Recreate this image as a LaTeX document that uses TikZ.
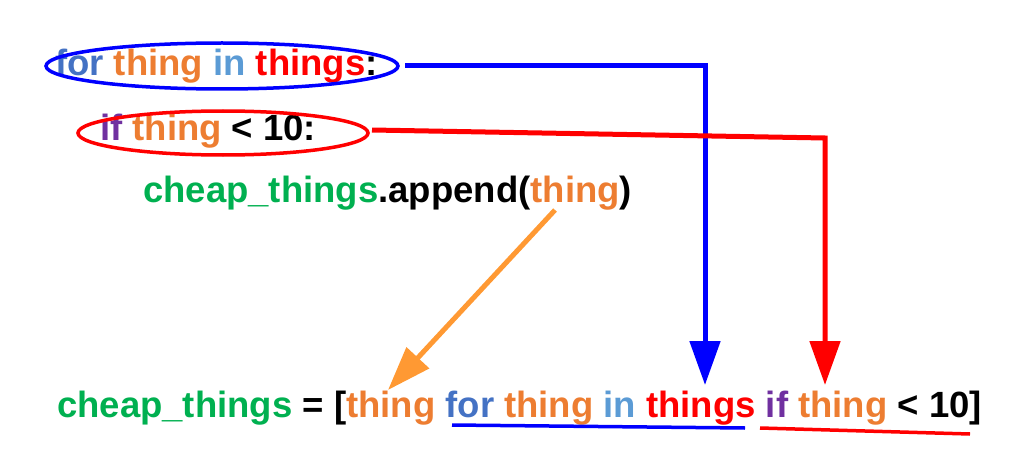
\documentclass[tikz,border=0pt]{standalone}
\usepackage{fontspec}
\setmainfont{Liberation Sans}
\usetikzlibrary{arrows.meta}
\definecolor{kw}{HTML}{4472C4}
\definecolor{var}{HTML}{ED7D31}
\definecolor{grn}{HTML}{00B050}
\definecolor{pur}{HTML}{7030A0}
\definecolor{lb}{HTML}{5B9BD5}
\definecolor{org}{HTML}{FF9933}
\tikzset{code/.style={anchor=west,inner sep=0,font=\fontsize{36.5}{38}\selectfont\bfseries},
 conn/.style={line width=5pt,-{Triangle[width=30pt,length=44pt]}}}
\begin{document}
\begin{tikzpicture}[x=1pt,y=-1pt]
\useasboundingbox (0,0) rectangle (1011,476);
\node[code] (l1) at (55,66) {\textcolor{kw}{for} \textcolor{var}{thing} \textcolor{lb}{in} \textcolor{red}{things}:};
\node[code] (l2) at (100,131) {\textcolor{pur}{if} \textcolor{var}{thing} < 10:};
\node[code] (l3) at (143,193) {\textcolor{grn}{cheap\_things}.append(\textcolor{var}{thing})};
\node[code] (l4) at (57,408) {\textcolor{grn}{cheap\_things} = [\textcolor{var}{thing} \textcolor{kw}{for} \textcolor{var}{thing} \textcolor{lb}{in} \textcolor{red}{things} \textcolor{pur}{if} \textcolor{var}{thing} < 10]};
\draw[blue,line width=3.5pt] (222,66) ellipse [x radius=176,y radius=23];
\draw[red,line width=3.5pt] (223,133) ellipse [x radius=145,y radius=22];
\coordinate (b0) at (405,66); \coordinate (b1) at (705,66); \coordinate (b2) at (705,385);
\coordinate (r0) at (372,130); \coordinate (r1) at (825,138); \coordinate (r2) at (825,385);
\draw[conn,blue,line join=miter] (b0) -- (b1) -- (b2);
\draw[conn,red,line join=miter] (r0) -- (r1) -- (r2);
\coordinate (o0) at (555,210); \coordinate (o1) at (388,390);
\draw[conn,org] (o0) -- (o1);
\coordinate (u0) at (452,425); \coordinate (u1) at (745,428);
\coordinate (u2) at (760,428); \coordinate (u3) at (970,434);
\draw[blue,line width=3.5pt] (u0) -- (u1);
\draw[red,line width=3.5pt] (u2) -- (u3);
\end{tikzpicture}
\end{document}
